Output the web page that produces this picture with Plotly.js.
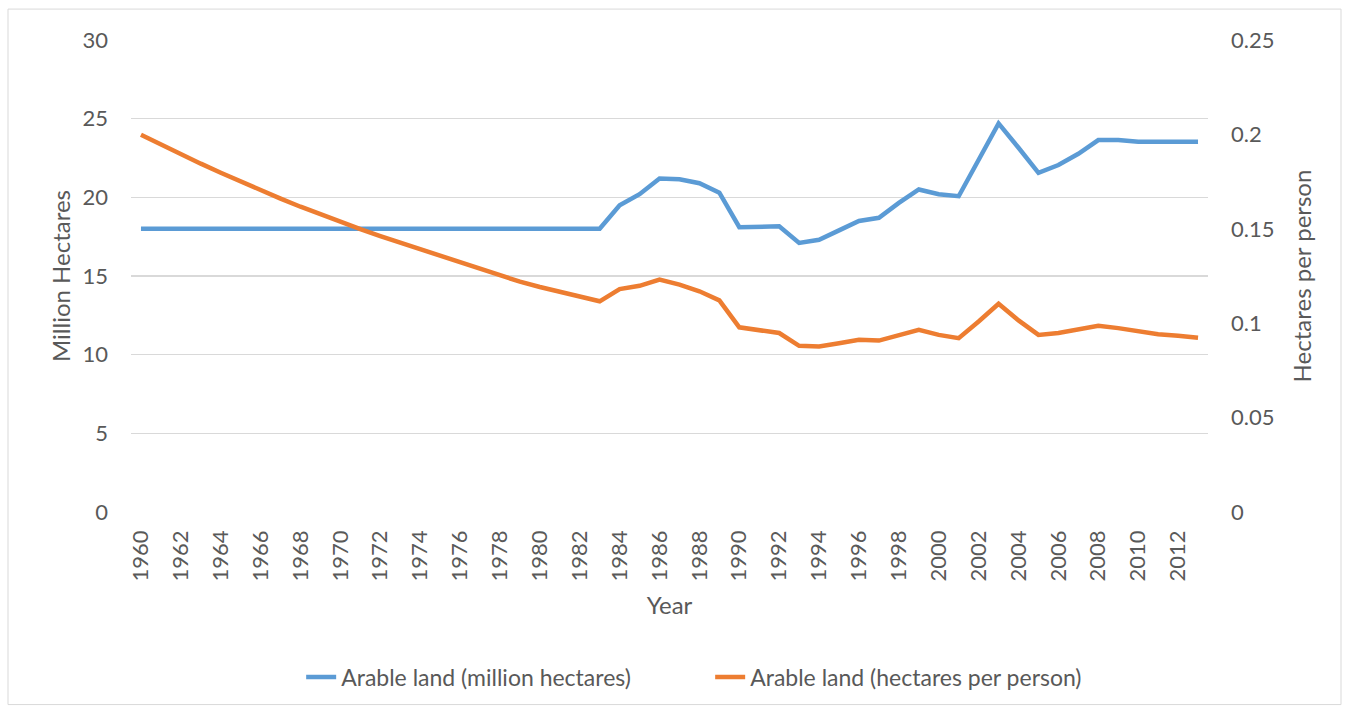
<!DOCTYPE html>
<html>
<head>
<meta charset="utf-8">
<script src="https://cdn.plot.ly/plotly-3.0.1.min.js"></script>
<style>
html,body{margin:0;padding:0;background:#fff;}
#chart{width:1345px;height:709px;}
</style>
</head>
<body>
<div id="chart"></div>
<script>
const years = [1960,1961,1962,1963,1964,1965,1966,1967,1968,1969,1970,1971,1972,1973,1974,1975,1976,1977,1978,1979,
  1980,1981,1982,1983,1984,1985,1986,1987,1988,1989,1990,1991,1992,1993,1994,1995,1996,1997,1998,1999,
  2000,2001,2002,2003,2004,2005,2006,2007,2008,2009,2010,2011,2012,2013];

const arableMillionHa = [18.0,18.0,18.0,18.0,18.0,18.0,18.0,18.0,18.0,18.0,18.0,18.0,18.0,18.0,18.0,18.0,18.0,18.0,18.0,18.0,
  18.0,18.0,18.0,18.0,19.5,20.2,21.2,21.15,20.9,20.3,18.1,18.12,18.16,17.1,17.3,17.9,18.5,18.7,19.65,20.5,
  20.2,20.07,22.4,24.7,23.15,21.56,22.05,22.77,23.64,23.64,23.53,23.53,23.53,23.53];

const arableHaPerPerson = [0.1998,0.1946,0.1895,0.1845,0.1797,0.1750,0.1705,0.1660,0.1617,0.1576,0.1537,0.1498,0.1461,0.1426,0.1391,0.1355,0.1320,0.1285,0.1250,0.1220,
  0.1192,0.1168,0.1142,0.1116,0.1181,0.1198,0.1231,0.1204,0.1169,0.1121,0.0978,0.0965,0.0948,0.0880,0.0877,0.0894,0.0912,0.0908,0.0938,0.0965,
  0.0938,0.0921,0.1009,0.1103,0.1015,0.0938,0.0948,0.0965,0.0986,0.0974,0.0956,0.0942,0.0934,0.0923];

const xTickVals = [1960,1962,1964,1966,1968,1970,1972,1974,1976,1978,1980,1982,1984,1986,1988,1990,1992,1994,1996,1998,2000,2002,2004,2006,2008,2010,2012];
const leftTicks = [0,5,10,15,20,25,30];
const rightTicks = [0,0.05,0.1,0.15,0.2,0.25];
const rightTickText = ['0','0.05','0.1','0.15','0.2','0.25'];

const seriesNames = ['Arable land (million hectares)','Arable land (hectares per person)'];
const colors = ['#5B9BD5','#ED7D31'];
const txt = '#595959';
const fontFam = 'Lato, "Open Sans", sans-serif';

const traces = [
  {x: years, y: arableMillionHa, name: seriesNames[0], type:'scatter', mode:'lines',
   line:{color:colors[0], width:4.5}, yaxis:'y'},
  {x: years, y: arableHaPerPerson, name: seriesNames[1], type:'scatter', mode:'lines',
   line:{color:colors[1], width:4.5}, yaxis:'y2'}
];

const layout = {
  width:1345, height:709,
  margin:{l:131, r:137, t:40, b:196},
  paper_bgcolor:'#fff', plot_bgcolor:'#fff',
  font:{family:fontFam, color:txt, size:22},
  showlegend:true,
  legend:{orientation:'h', x:0.158, xanchor:'left', y:-0.347, yanchor:'middle',
          entrywidth:364, entrywidthmode:'pixels',
          font:{size:23, color:txt, family:fontFam}},
  xaxis:{range:[1959.5,2013.5], tickvals:xTickVals, ticktext:xTickVals.map(String),
         tickangle:-90, showgrid:false, zeroline:false, showline:false, ticks:'',
         ticklabelstandoff:13, automargin:false,
         tickfont:{size:22, color:txt},
         title:{text:'Year', font:{size:24, color:txt}, standoff:16}},
  yaxis:{range:[0,30], tickvals:leftTicks, showgrid:true, gridcolor:'#d9d9d9', gridwidth:1.3,
         zeroline:false, showline:false, ticks:'', ticklabelstandoff:22, automargin:false,
         tickfont:{size:22, color:txt},
         title:{text:'Million Hectares', font:{size:24, color:txt}, standoff:5}},
  yaxis2:{range:[0,0.25], tickvals:rightTicks, ticktext:rightTickText, overlaying:'y', side:'right',
          showgrid:false, zeroline:false, showline:false, ticks:'', ticklabelstandoff:22, automargin:false,
          tickfont:{size:22, color:txt},
          title:{text:'Hectares per person', font:{size:24, color:txt}, standoff:20}},
  shapes:[{type:'rect', xref:'paper', yref:'paper', x0:-0.1142, x1:1.1235, y0:-0.408, y1:1.0655,
           line:{color:'#d9d9d9', width:1}, fillcolor:'rgba(0,0,0,0)', layer:'below'}]
};

Plotly.newPlot('chart', traces, layout, {displayModeBar:false, staticPlot:true});
</script>
</body>
</html>
